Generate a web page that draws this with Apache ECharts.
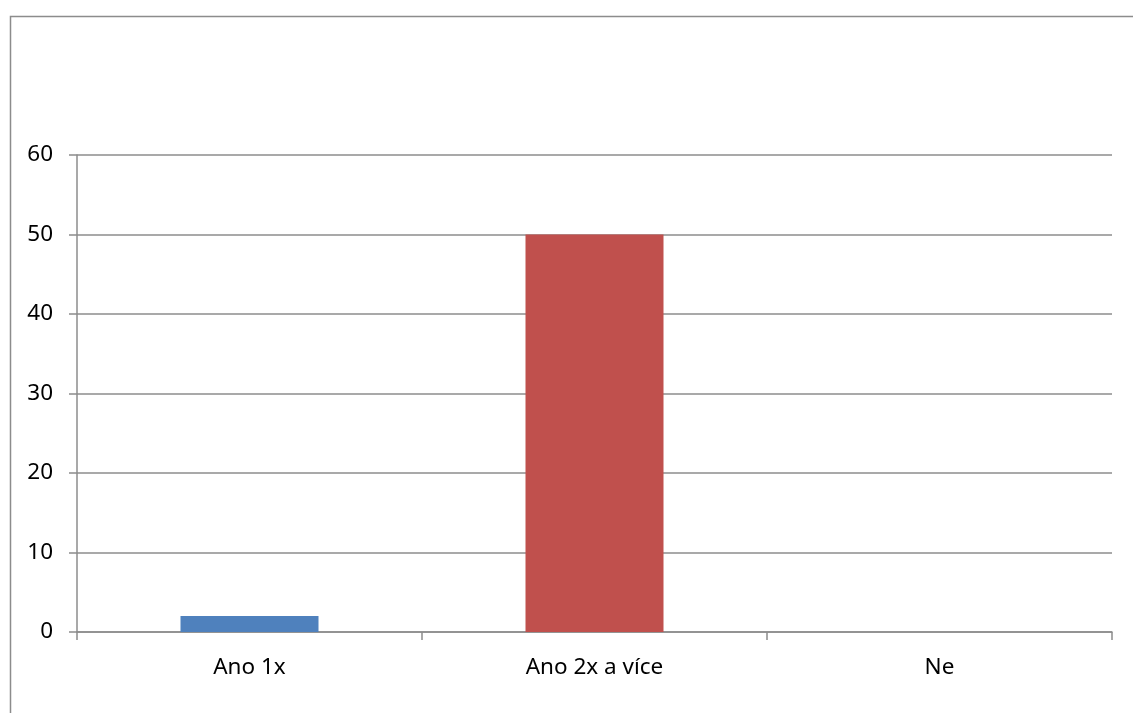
<!DOCTYPE html>
<html>
<head>
<meta charset="utf-8">
<style>
  html, body { margin: 0; padding: 0; background: #fff; }
  #chart { width: 1133px; height: 713px; }
</style>
<script src="https://cdn.jsdelivr.net/npm/echarts@6/dist/echarts.min.js"></script>
</head>
<body>
<div id="chart"></div>
<script>
// Answers and their counts
const categories = ['Ano 1x', 'Ano 2x a více', 'Ne'];
const counts = [2, 50, 0];
const barColors = ['#4F81BD', '#C0504D', '#9BBB59'];
const yTicks = { min: 0, max: 60, interval: 10 };

const chart = echarts.init(document.getElementById('chart'), null, { renderer: 'canvas' });
const lineColor = '#8c8c8c';
const font = '"Noto Sans", "Open Sans", sans-serif';

chart.setOption({
  animation: false,
  backgroundColor: '#ffffff',
  graphic: [{
    type: 'rect',
    shape: { x: 10.5, y: 16.5, width: 1140, height: 720 },
    style: { fill: 'none', stroke: lineColor, lineWidth: 1.5 },
    silent: true
  }],
  grid: { left: 77, right: 21, top: 155, bottom: 81, containLabel: false },
  xAxis: {
    type: 'category',
    data: categories,
    axisLine: { lineStyle: { color: lineColor, width: 1.5 } },
    axisTick: { show: true, alignWithLabel: false, length: 8, lineStyle: { color: lineColor, width: 1.5 } },
    axisLabel: { color: '#000', fontFamily: font, fontSize: 22.5, margin: 24 }
  },
  yAxis: {
    type: 'value',
    min: yTicks.min, max: yTicks.max, interval: yTicks.interval,
    axisLine: { show: true, lineStyle: { color: lineColor, width: 1.5 } },
    axisTick: { show: true, length: 8, lineStyle: { color: lineColor, width: 1.5 } },
    axisLabel: { color: '#000', fontFamily: font, fontSize: 22.5, margin: 24 },
    splitLine: { show: true, lineStyle: { color: lineColor, width: 1.5 } }
  },
  series: [{
    type: 'bar',
    data: counts.map((v, i) => ({ value: v, itemStyle: { color: barColors[i] } })),
    barWidth: '40%'
  }]
});
</script>
</body>
</html>
